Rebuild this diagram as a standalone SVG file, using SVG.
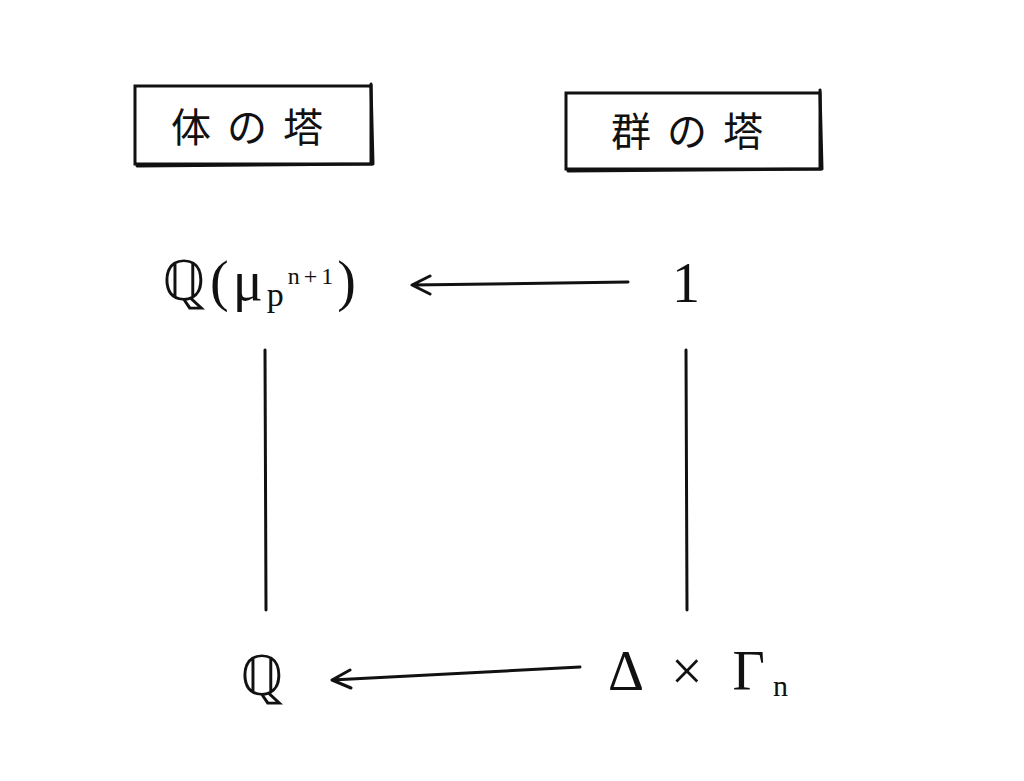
<svg xmlns="http://www.w3.org/2000/svg" width="1024" height="781" viewBox="0 0 1024 781">
<style>
.ln{stroke:#111;stroke-width:3;fill:none;stroke-linecap:round;stroke-linejoin:round}
.bx{stroke:#111;stroke-width:3;fill:#fff}
.t{font-family:"Noto Sans CJK JP","Liberation Sans",sans-serif;font-size:40px;fill:#111}
.m{font-family:"Liberation Serif",serif;font-size:56px;fill:#111}
</style>
<rect width="1024" height="781" fill="#fff"/>
<g id="box-field">
<rect class="bx" x="135" y="86" width="236" height="78"/>
<path class="ln" d="M371 84 L373 164 L137 166" stroke-width="5"/>
<text class="t" x="255" y="142" text-anchor="middle" letter-spacing="16">体の塔</text>
</g>
<g id="box-group">
<rect class="bx" x="566" y="93" width="254" height="76"/>
<path class="ln" d="M820 90 L822 169 L568 171" stroke-width="5"/>
<text class="t" x="695" y="146" text-anchor="middle" letter-spacing="16">群の塔</text>
</g>
<g id="node-Qmu">
<text class="m" x="162" y="300" letter-spacing="4">ℚ(μ<tspan font-size="34" dy="6">p</tspan><tspan font-size="24" dy="-22">n+1</tspan><tspan dy="16">)</tspan></text>
</g>
<g id="node-1">
<text class="m" x="686" y="302" text-anchor="middle">1</text>
</g>
<g id="node-Q">
<text class="m" x="262" y="695" text-anchor="middle">ℚ</text>
</g>
<g id="node-DG">
<text class="m" x="608" y="690" letter-spacing="8">Δ × Γ<tspan font-size="30" dy="6">n</tspan></text>
</g>
<g id="connectors">
<path class="ln" d="M628 282 L412 285 M430 276 L412 285 L430 294"/>
<path class="ln" d="M580 667 L332 680 M350 670 L332 680 L351 688"/>
<path class="ln" d="M265 350 L266 610"/>
<path class="ln" d="M686 350 L687 610"/>
</g>
</svg>
